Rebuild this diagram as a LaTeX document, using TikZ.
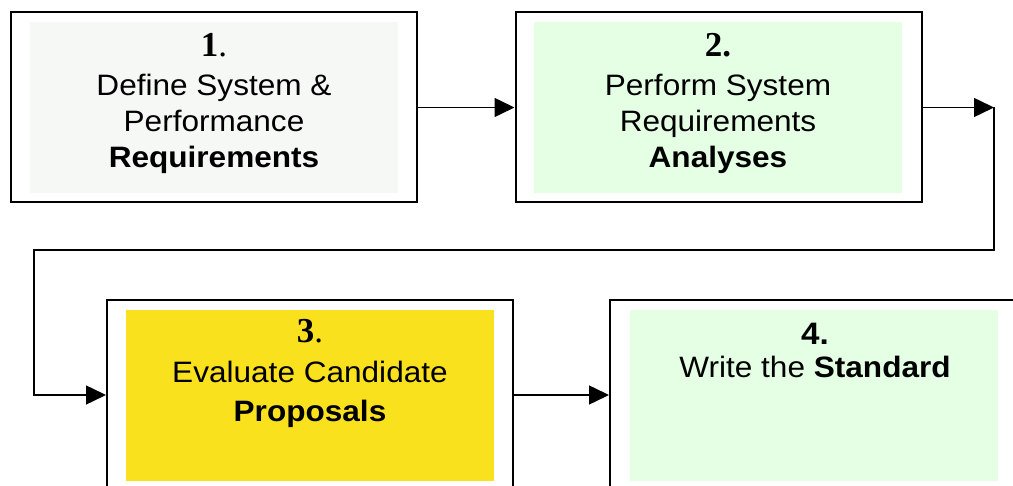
\documentclass[tikz,border=0pt]{standalone}
\usepackage{fontspec}
\usetikzlibrary{arrows.meta}
\newfontfamily\arialx[FakeStretch=1.07]{Liberation Sans}
\newfontfamily\timesx{Liberation Serif}
\definecolor{paleA}{HTML}{F5F8F5}
\definecolor{paleG}{HTML}{E5FFE5}
\definecolor{yel}{HTML}{FAE11E}
\tikzset{
  outerbox/.style={draw=black, line width=2pt, fill=white, inner sep=0pt, minimum width=406pt, minimum height=190pt},
  innerbox/.style={inner sep=0pt, minimum width=368pt, minimum height=171pt},
  txt/.style={anchor=base, inner sep=0pt, font=\arialx\fontsize{29.5}{32}\selectfont},
  numtxt/.style={anchor=base, inner sep=0pt, font=\timesx\fontsize{35}{40}\selectfont},
  conn/.style={draw=black, line width=1.5pt, -{Triangle[length=20pt,width=19pt]}},
}
\begin{document}
\begin{tikzpicture}[x=1pt,y=-1pt]
\clip (0,0) rectangle (1013,486);
\fill[white] (0,0) rectangle (1013,486);
% boxes
\node[outerbox] (b1) at (214,107.5) {};
\node[innerbox, fill=paleA] (i1) at (214,107.5) {};
\node[outerbox] (b2) at (718.5,107.5) {};
\node[innerbox, fill=paleG] (i2) at (717.5,107.5) {};
\node[outerbox] (b3) at (310,395) {};
\node[innerbox, fill=yel] (i3) at (310,395.5) {};
\node[outerbox, minimum width=410pt] (b4) at (815,395) {};
\node[innerbox, fill=paleG] (i4) at (814,395.5) {};
% texts box 1
\node[numtxt] (n1) at (214,57) {\textbf{1}.};
\node[txt] (t1a) at (214,96) {Define System \&};
\node[txt] (t1b) at (214,132) {Performance};
\node[txt] (t1c) at (214,168) {\bfseries Requirements};
% texts box 2
\node[numtxt] (n2) at (718,57) {\textbf{2.}};
\node[txt] (t2a) at (718,96) {Perform System};
\node[txt] (t2b) at (718,132) {Requirements};
\node[txt] (t2c) at (718,168) {\bfseries Analyses};
% texts box 3
\node[numtxt] (n3) at (310,343) {\textbf{3}.};
\node[txt] (t3a) at (310,383) {Evaluate Candidate};
\node[txt] (t3b) at (310,421.5) {\bfseries Proposals};
% texts box 4
\node[txt, font=\arialx\bfseries\fontsize{31}{34}\selectfont] (n4) at (815,345) {4.};
\node[txt] (t4a) at (815,378) {Write the \textbf{Standard}};
% connectors
\coordinate (turn) at (994,107.5);
\coordinate (low) at (34,250);
\draw[conn] (b1.east) -- (b2.west);
\draw[conn] (b2.east) -- (turn);
\draw[conn] (turn) |- (low) |- (b3.west);
\draw[conn] (b3.east) -- (b4.west);
\end{tikzpicture}
\end{document}
